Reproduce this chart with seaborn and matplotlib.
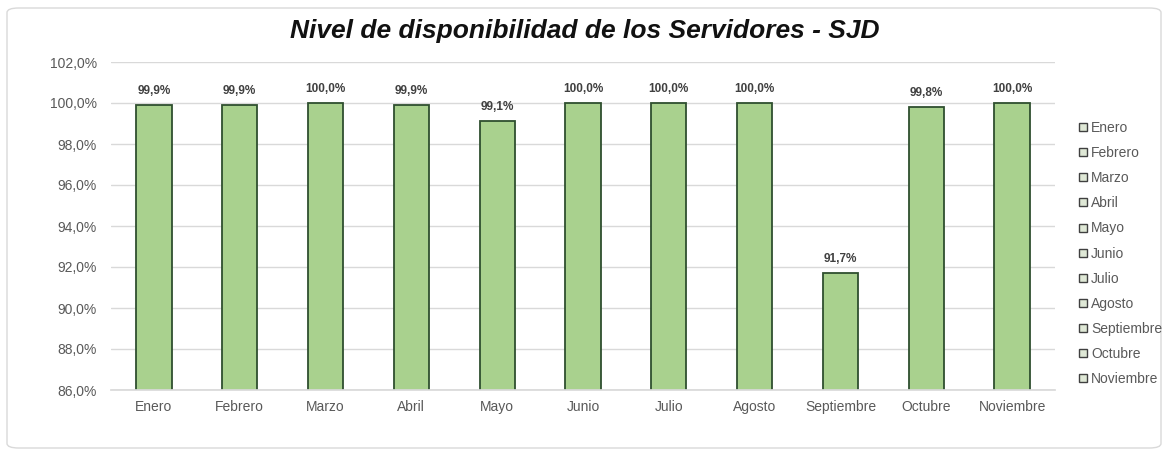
import matplotlib
matplotlib.use("Agg")
import matplotlib.pyplot as plt
from matplotlib.patches import FancyBboxPatch
from matplotlib.lines import Line2D
import seaborn as sns
import pandas as pd

# Monthly server availability (%)
meses = ["Enero", "Febrero", "Marzo", "Abril", "Mayo", "Junio", "Julio",
         "Agosto", "Septiembre", "Octubre", "Noviembre"]
disponibilidad = [99.9, 99.9, 100.0, 99.9, 99.1, 100.0, 100.0, 100.0, 91.7, 99.8, 100.0]
y_ticks = [86, 88, 90, 92, 94, 96, 98, 100, 102]

BAR_GREEN = "#a9d18e"
BAR_EDGE = "#2f4f2f"
TEXT_GREY = "#595959"

sns.set_theme(style="white")
plt.rcParams["font.family"] = ["Liberation Sans", "DejaVu Sans"]

df = pd.DataFrame({"Mes": meses, "Disponibilidad": disponibilidad})

fig = plt.figure(figsize=(11.68, 4.54), dpi=100)
ax = fig.add_axes([111 / 1168, 1 - 390 / 454, (1055 - 111) / 1168, (390 - 62) / 454])

sns.barplot(data=df, x="Mes", y="Disponibilidad", hue="Mes",
            palette=[BAR_GREEN] * len(meses), saturation=1, dodge=False,
            legend=False, width=0.41, edgecolor=BAR_EDGE, linewidth=1.3, ax=ax)

ax.set_ylim(86, 102)
ax.set_yticks(y_ticks)
ax.set_yticklabels([f"{t:.1f}%".replace(".", ",") for t in y_ticks],
                   fontsize=10, color=TEXT_GREY)
ax.set_xticks(range(len(meses)))
ax.set_xticklabels(meses, fontsize=10, color=TEXT_GREY)
ax.tick_params(axis="y", length=0, pad=10)
ax.tick_params(axis="x", length=0, pad=7)
ax.set_xlabel("")
ax.set_ylabel("")
ax.yaxis.grid(True, color="#d9d9d9", linewidth=1)
ax.set_axisbelow(True)
for side in ["top", "right", "left"]:
    ax.spines[side].set_visible(False)
ax.spines["bottom"].set_color("#d9d9d9")

# Value labels above each bar
for i, v in enumerate(disponibilidad):
    ax.annotate(f"{v:.1f}%".replace(".", ","), (i, v), xytext=(0, 6),
                textcoords="offset points", ha="center", va="bottom",
                fontsize=8.5, fontweight="bold", color="#404040")

# Legend: one entry per month
handles = [Line2D([], [], marker="s", linestyle="none", markersize=6,
                  markerfacecolor="#dfe8d6", markeredgecolor="#404040",
                  markeredgewidth=1.0) for _ in meses]
leg = fig.legend(handles, meses, loc="upper left",
                 bbox_to_anchor=(1071 / 1168, 1 - 114 / 454),
                 frameon=False, fontsize=10, handlelength=0.7,
                 handletextpad=0.25, labelspacing=0.8, borderpad=0)
for t in leg.get_texts():
    t.set_color(TEXT_GREY)

fig.text(585 / 1168, 1 - 31 / 454, "Nivel de disponibilidad de los Servidores - SJD",
         ha="center", va="center", fontsize=19, fontweight="bold",
         fontstyle="italic", color="#111111")

# Rounded frame around the chart
frame = FancyBboxPatch((7 / 1168, 6 / 454), 1154 / 1168, 440 / 454,
                       boxstyle="round,pad=0,rounding_size=0.01",
                       transform=fig.transFigure, facecolor="none",
                       edgecolor="#d9d9d9", linewidth=1.0)
fig.patches.append(frame)

fig.savefig("out.png", dpi=100)
